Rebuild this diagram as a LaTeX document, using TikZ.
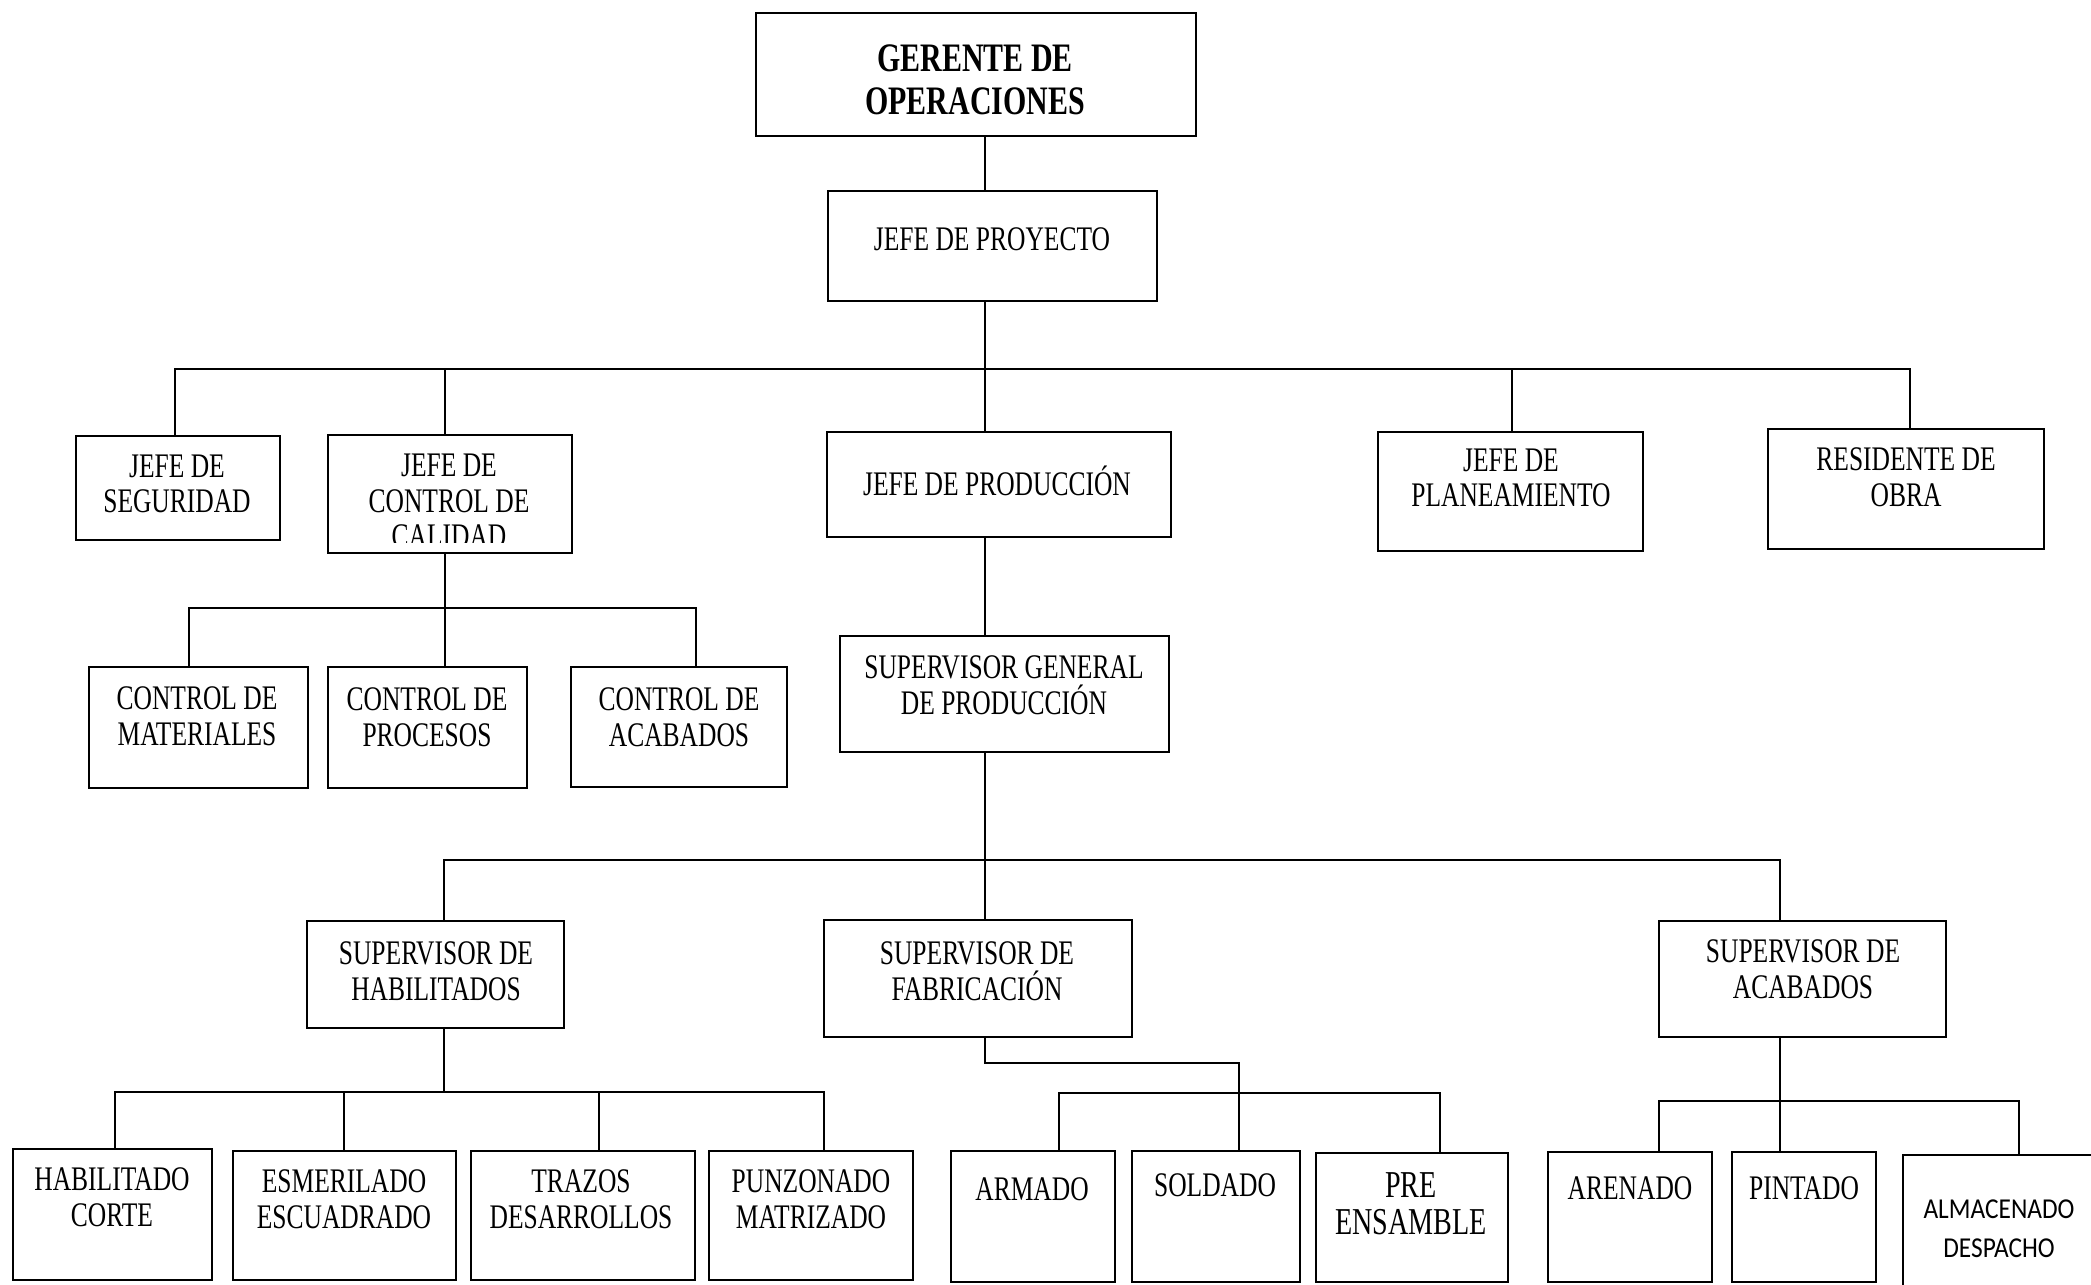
\documentclass[tikz,border=0pt]{standalone}
\usepackage{fontspec}
\setmainfont{Liberation Serif}[FakeStretch=0.74]
\newfontfamily\sansfam{Carlito}[FakeStretch=0.88]
\usetikzlibrary{fit,calc}

\begin{document}
\begin{tikzpicture}[x=0.01cm,y=-0.01cm,line width=0.8pt,
    caja/.style={draw,inner sep=0pt},
    txt/.style={align=center,inner sep=0pt,font=\fontsize{9.8}{10.1}\selectfont}]
      \useasboundingbox (0,0) rectangle (2091,1285);
      % cajas
      \node[caja,fit={(756,13) (1196,136)}](gerente){};
      \node[caja,fit={(828,191) (1157,301)}](proyecto){};
      \node[caja,fit={(76,436) (280,540)}](seguridad){};
      \node[caja,fit={(328,435) (572,553)}](calidad){};
      \node[caja,fit={(827,432) (1171,537)}](produccion){};
      \node[caja,fit={(1378,432) (1643,551)}](planeamiento){};
      \node[caja,fit={(1768,429) (2044,549)}](residente){};
      \node[caja,fit={(89,667) (308,788)}](materiales){};
      \node[caja,fit={(328,667) (527,788)}](procesos){};
      \node[caja,fit={(571,667) (787,787)}](cacabados){};
      \node[caja,fit={(840,636) (1169,752)}](sgeneral){};
      \node[caja,fit={(307,921) (564,1028)}](shab){};
      \node[caja,fit={(824,920) (1132,1037)}](sfab){};
      \node[caja,fit={(1659,921) (1946,1037)}](sacab){};
      \node[caja,fit={(13,1149) (212,1280)}](corte){};
      \node[caja,fit={(233,1151) (456,1280)}](esmerilado){};
      \node[caja,fit={(471,1151) (695,1280)}](trazos){};
      \node[caja,fit={(709,1151) (913,1280)}](punzonado){};
      \node[caja,fit={(951,1151) (1115,1282)}](armado){};
      \node[caja,fit={(1132,1151) (1300,1282)}](soldado){};
      \node[caja,fit={(1316,1153) (1508,1282)}](preens){};
      \node[caja,fit={(1548,1152) (1712,1282)}](arenado){};
      \node[caja,fit={(1732,1152) (1876,1282)}](pintado){};
      \node[caja,fit={(1903,1155) (2098,1292)}](almacen){};
      % textos
      \node[txt,font=\fontsize{11.5}{12.1}\selectfont\bfseries](t-gerente) at (975,80) {GERENTE DE\\OPERACIONES};
      \node[txt](t-proyecto) at (992,239) {JEFE DE PROYECTO};
      \node[txt](t-seguridad) at (177,484) {JEFE DE\\SEGURIDAD};
      \begin{scope}
        \clip (328,435) rectangle (572,542);
        \node[txt](t-calidad) at (449,501) {JEFE DE\\CONTROL DE\\CALIDAD};
      \end{scope}
      \node[txt](t-produccion) at (997,481) {JEFE DE PRODUCCIÓN};
      \node[txt](t-planeamiento) at (1511,478) {JEFE DE\\PLANEAMIENTO};
      \node[txt](t-residente) at (1906,477) {RESIDENTE DE\\OBRA};
      \node[txt](t-materiales) at (197,716) {CONTROL DE\\MATERIALES};
      \node[txt](t-procesos) at (427,717) {CONTROL DE\\PROCESOS};
      \node[txt](t-cacabados) at (679,717) {CONTROL DE\\ACABADOS};
      \node[txt](t-sgeneral) at (1004,685) {SUPERVISOR GENERAL\\DE PRODUCCIÓN};
      \node[txt](t-shab) at (436,971) {SUPERVISOR DE\\HABILITADOS};
      \node[txt](t-sfab) at (977,971) {SUPERVISOR DE\\FABRICACIÓN};
      \node[txt](t-sacab) at (1803,969) {SUPERVISOR DE\\ACABADOS};
      \node[txt](t-corte) at (112,1197) {HABILITADO\\CORTE};
      \node[txt](t-esmerilado) at (344,1199) {ESMERILADO\\ESCUADRADO};
      \node[txt](t-trazos) at (581,1199) {TRAZOS\\DESARROLLOS};
      \node[txt](t-punzonado) at (811,1199) {PUNZONADO\\MATRIZADO};
      \node[txt](t-armado) at (1032,1189) {ARMADO};
      \node[txt](t-soldado) at (1215,1185) {SOLDADO};
      \node[txt,font=\fontsize{10.8}{10.6}\selectfont](t-preens) at (1411,1204) {PRE\\ENSAMBLE};
      \node[txt](t-arenado) at (1630,1188) {ARENADO};
      \node[txt](t-pintado) at (1804,1188) {PINTADO};
      \node[txt,font=\sansfam\fontsize{8.2}{11}\selectfont](t-almacen) at (1999,1229) {ALMACENADO\\DESPACHO};
      % lineas
      \coordinate (b1) at (985,369);
      \draw (gerente.south -| b1) -- (proyecto.north -| b1);
      \draw (proyecto.south -| b1) -- (produccion.north -| b1);
      \draw (seguridad.north -| 175,0) |- (b1);
      \draw (calidad.north -| 445,0) |- (b1);
      \draw (planeamiento.north -| 1512,0) |- (b1);
      \draw (residente.north -| 1910,0) |- (b1);
      \coordinate (b2) at (445,608);
      \draw (calidad.south -| b2) -- (b2);
      \draw (materiales.north -| 189,0) |- (b2);
      \draw (procesos.north -| b2) -- (b2);
      \draw (cacabados.north -| 696,0) |- (b2);
      \draw (produccion.south -| b1) -- (sgeneral.north -| b1);
      \coordinate (b3) at (985,860);
      \draw (sgeneral.south -| b1) -- (sfab.north -| b1);
      \draw (shab.north -| 444,0) |- (b3);
      \draw (sacab.north -| 1780,0) |- (b3);
      \coordinate (b4) at (444,1092);
      \draw (shab.south -| b4) -- (b4);
      \draw (corte.north -| 115,0) |- (b4);
      \draw (esmerilado.north -| 344,0) |- (b4);
      \draw (trazos.north -| 599,0) |- (b4);
      \draw (punzonado.north -| 824,0) |- (b4);
      \coordinate (codo) at (1239,1063);
      \coordinate (b5) at (1239,1093);
      \draw (sfab.south -| b1) |- (codo) -- (b5);
      \draw (armado.north -| 1059,0) |- (b5);
      \draw (soldado.north -| b5) -- (b5);
      \draw (preens.north -| 1440,0) |- (b5);
      \coordinate (b6) at (1780,1101);
      \draw (sacab.south -| b6) -- (pintado.north -| b6);
      \draw (arenado.north -| 1659,0) |- (b6);
      \draw (almacen.north -| 2019,0) |- (b6);
    \end{tikzpicture}
\end{document}
